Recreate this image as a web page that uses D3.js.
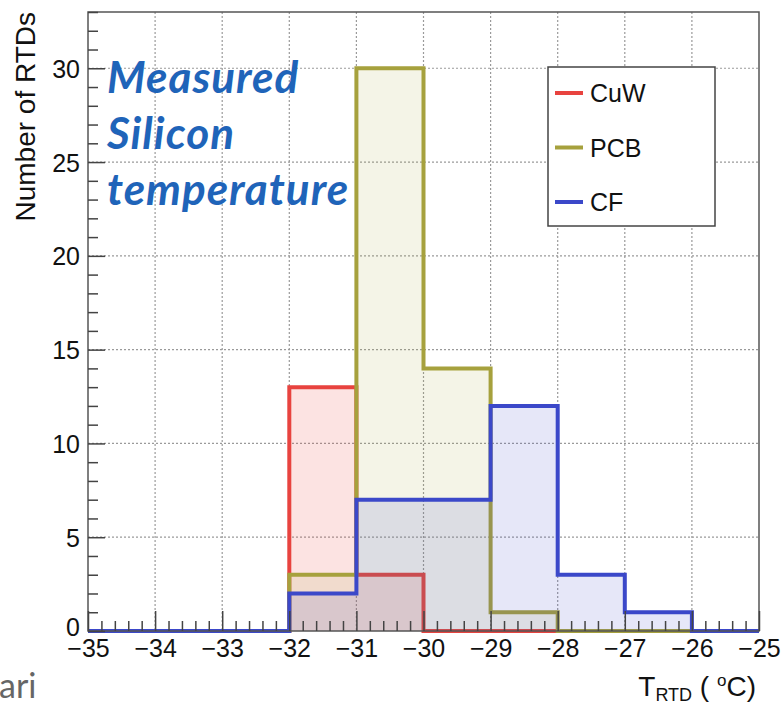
<!DOCTYPE html>
<html>
<head>
<meta charset="utf-8">
<script src="https://cdn.jsdelivr.net/npm/d3@7"></script>
<style>
  body { margin: 0; background: #fff; }
  svg { display: block; }
</style>
</head>
<body>
<div id="chart"></div>
<script>
/* DATA */
const binEdges = [-35, -34, -33, -32, -31, -30, -29, -28, -27, -26, -25];
const cuwCounts = [0, 0, 0, 13, 3, 0, 0, 0, 0, 0];
const pcbCounts = [0, 0, 0, 3, 30, 14, 1, 0, 0, 0];
const cfCounts = [0, 0, 0, 2, 7, 7, 12, 3, 1, 0];
const seriesNames = ["CuW", "PCB", "CF"];
const xTicks = [-35, -34, -33, -32, -31, -30, -29, -28, -27, -26, -25];
const yTicks = [0, 5, 10, 15, 20, 25, 30];
const yMax = 33;

/* CONSTANTS */
const width = 781, height = 705;
const frame = { left: 88, right: 759, top: 12, bottom: 631 };
const colors = { CuW: "#e8433f", PCB: "#a6a13d", CF: "#3b48c9" };
const fills = { CuW: "rgba(232,67,63,0.15)", PCB: "rgba(166,161,61,0.12)", CF: "rgba(59,72,201,0.13)" };
const axisFont = "'Liberation Sans', Arial, sans-serif";
const minus = s => String(s).replace("-", "\u2212");

const svg = d3.select("#chart").append("svg")
  .attr("width", width)
  .attr("height", height);

// + SCALES
const xScale = d3.scaleLinear()
  .domain([binEdges[0], binEdges[binEdges.length - 1]])
  .range([frame.left, frame.right]);

const yScale = d3.scaleLinear()
  .domain([0, yMax])
  .range([frame.bottom, frame.top]);

// + GRID
const grid = svg.append("g").attr("stroke", "#9a9a9a").attr("stroke-width", 1.2).attr("stroke-dasharray", "2,2");
grid.selectAll("line.gx")
  .data(xTicks.slice(1, -1))
  .join("line")
  .attr("class", "gx")
  .attr("x1", d => xScale(d)).attr("x2", d => xScale(d))
  .attr("y1", frame.top).attr("y2", frame.bottom);
grid.selectAll("line.gy")
  .data(yTicks.slice(1))
  .join("line")
  .attr("class", "gy")
  .attr("x1", frame.left).attr("x2", frame.right)
  .attr("y1", d => yScale(d)).attr("y2", d => yScale(d));

// + HISTOGRAMS
const stepPoints = counts => binEdges.map((e, i) => [e, i < counts.length ? counts[i] : counts[counts.length - 1]]);

const area = d3.area()
  .curve(d3.curveStepAfter)
  .x(d => xScale(d[0]))
  .y0(yScale(0))
  .y1(d => yScale(d[1]));

const line = d3.line()
  .curve(d3.curveStepAfter)
  .x(d => xScale(d[0]))
  .y(d => yScale(d[1]));

const allCounts = { CuW: cuwCounts, PCB: pcbCounts, CF: cfCounts };
seriesNames.forEach(name => {
  const pts = stepPoints(allCounts[name]);
  svg.append("path")
    .attr("d", area(pts))
    .attr("fill", fills[name]);
  svg.append("path")
    .attr("d", line(pts))
    .attr("fill", "none")
    .attr("stroke", colors[name])
    .attr("stroke-width", 4);
});

// + FRAME
svg.append("rect")
  .attr("x", frame.left).attr("y", frame.top)
  .attr("width", frame.right - frame.left)
  .attr("height", frame.bottom - frame.top)
  .attr("fill", "none")
  .attr("stroke", "#555")
  .attr("stroke-width", 1.5);

// + AXES (ticks inside the frame)
const xMinor = d3.range(-35, -25.0001, 0.2).filter(v => Math.abs(v - Math.round(v)) > 0.01);
const yMinor = d3.range(0, yMax + 0.001, 1).filter(v => v % 5 !== 0);

const xAxisMinor = d3.axisBottom(xScale).tickValues(xMinor).tickSize(-10).tickFormat("");
const xAxis = d3.axisBottom(xScale).tickValues(xTicks).tickSize(-20).tickPadding(23).tickFormat(minus);
const yAxisMinor = d3.axisLeft(yScale).tickValues(yMinor).tickSize(-10).tickFormat("");
const yAxis = d3.axisLeft(yScale).tickValues(yTicks).tickSize(-17).tickPadding(8).tickFormat(d3.format("d"));

const styleAxis = g => {
  g.select(".domain").remove();
  g.selectAll(".tick line").attr("stroke", "#444").attr("stroke-width", 1.5);
  g.selectAll("text").attr("fill", "#111").attr("font-family", axisFont).attr("font-size", 25);
};

svg.append("g").attr("transform", `translate(0,${frame.bottom})`).call(xAxisMinor).call(styleAxis);
svg.append("g").attr("transform", `translate(0,${frame.bottom})`).call(xAxis).call(styleAxis)
  .selectAll("text").attr("dy", "0.1em");
svg.append("g").attr("transform", `translate(${frame.left},0)`).call(yAxisMinor).call(styleAxis);
svg.append("g").attr("transform", `translate(${frame.left},0)`).call(yAxis).call(styleAxis)
  .selectAll("text").attr("dy", d => d === 0 ? "0.16em" : "0.36em");

// + AXIS TITLES
svg.append("text")
  .attr("transform", `translate(35,${frame.top}) rotate(-90)`)
  .attr("text-anchor", "end")
  .attr("font-family", axisFont)
  .attr("font-size", 28)
  .attr("fill", "#111")
  .text("Number of RTDs");

const xTitle = svg.append("text")
  .attr("x", frame.right - 3)
  .attr("y", 696)
  .attr("text-anchor", "end")
  .attr("font-family", axisFont)
  .attr("font-size", 28)
  .attr("fill", "#111");
xTitle.append("tspan").text("T");
xTitle.append("tspan").attr("font-size", 18).attr("dy", 5).text("RTD");
xTitle.append("tspan").attr("dy", -5).text(" (  ");
xTitle.append("tspan").attr("font-size", 17).attr("dy", -10).text("o");
xTitle.append("tspan").attr("dy", 10).text("C)");

// + LEGEND
const legend = svg.append("g");
legend.append("rect")
  .attr("x", 548).attr("y", 67)
  .attr("width", 167).attr("height", 159)
  .attr("fill", "#fff")
  .attr("stroke", "#444")
  .attr("stroke-width", 1.5);
const legendY = d3.scalePoint().domain(seriesNames).range([93, 202]);
seriesNames.forEach(name => {
  legend.append("line")
    .attr("x1", 555).attr("x2", 583)
    .attr("y1", legendY(name)).attr("y2", legendY(name))
    .attr("stroke", colors[name])
    .attr("stroke-width", 4);
  legend.append("text")
    .attr("x", 590).attr("y", legendY(name) + 9)
    .attr("font-family", axisFont)
    .attr("font-size", 25)
    .attr("fill", "#111")
    .text(name);
});

// + ANNOTATION
const note = svg.append("text")
  .attr("font-family", "Lato, 'Open Sans', sans-serif")
  .attr("font-weight", "bold")
  .attr("font-style", "italic")
  .attr("font-size", 44)
  .attr("letter-spacing", 1)
  .attr("fill", "#1f64b9");
["Measured", "Silicon", "temperature"].forEach((t, i) => {
  note.append("tspan").attr("x", 107).attr("y", 93 + i * 56).text(t);
});

// cut-off slide text at bottom left
svg.append("text")
  .attr("x", -1).attr("y", 698)
  .attr("font-family", "Lato, sans-serif")
  .attr("font-size", 34)
  .attr("fill", "#666")
  .text("ari");
</script>
</body>
</html>
